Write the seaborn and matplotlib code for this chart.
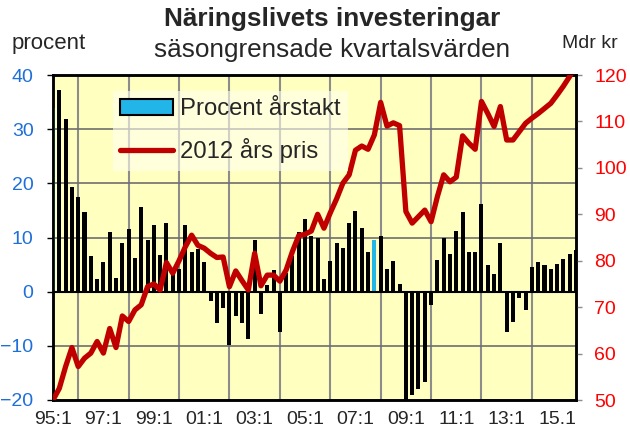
import numpy as np
import pandas as pd
import matplotlib
matplotlib.use("Agg")
import matplotlib.pyplot as plt
import seaborn as sns
from matplotlib.patches import Patch
from matplotlib.lines import Line2D

# --- data (quarters 95:1 .. 15:4) ---
quarters = [f"{y % 100:02d}:{q}" for y in range(1995, 2016) for q in range(1, 5)]

pct_change = [34.0, 37.2, 31.8, 19.4, 17.5, 14.8, 6.6, 2.3, 5.5, 11.1,
              2.5, 9.0, 11.6, 6.2, 15.6, 9.5, 12.4, 6.7, 12.7, 3.5,
              4.2, 12.4, 7.3, 7.8, 5.5, -1.8, -5.7, -3.0, -9.9, -4.4,
              -5.7, -8.7, 9.5, -4.2, 1.3, 4.0, -7.4, 3.5, 6.6, 11.1,
              13.4, 10.2, 10.0, 2.4, 5.7, 9.0, 8.1, 12.7, 14.9, 11.8,
              7.3, 9.5, 10.3, 4.2, 5.7, 1.5, -20.5, -19.1, -18.0, -16.6,
              -2.5, 5.8, 9.9, 6.9, 11.2, 14.8, 7.4, 7.4, 16.2, 5.0,
              3.2, 8.9, -7.4, -5.6, -1.2, -3.4, 4.6, 5.5, 4.9, 4.1,
              5.2, 6.1, 6.9, 7.7]

level_2012 = [50.0, 52.5, 57.2, 61.3, 57.2, 59.0, 60.1, 62.6, 60.1, 65.4,
              61.3, 68.1, 66.9, 69.4, 70.5, 74.4, 75.0, 73.7, 79.6, 77.3,
              80.0, 83.0, 85.5, 83.3, 82.7, 81.6, 80.7, 80.8, 74.4, 77.8,
              75.7, 73.7, 81.6, 74.6, 76.9, 76.9, 75.6, 78.0, 82.0, 85.4,
              85.7, 86.4, 90.0, 87.0, 90.3, 93.3, 96.7, 98.5, 103.8, 104.7,
              104.0, 107.1, 114.1, 109.0, 109.7, 109.1, 90.6, 88.1, 89.5, 90.9,
              88.4, 93.8, 98.5, 97.0, 98.0, 106.9, 105.3, 104.0, 114.3, 111.7,
              108.9, 113.2, 106.0, 106.0, 107.8, 109.6, 110.7, 111.7, 112.8, 113.9,
              115.7, 117.6, 119.7, 122.0]

highlighted = ["95:1", "07:4"]
tick_labels = ["95:1", "97:1", "99:1", "01:1", "03:1", "05:1",
               "07:1", "09:1", "11:1", "13:1", "15.1"]

CYAN = "#22B5E8"
RED = "#C00000"
BLUE = "#1E6FD9"

df = pd.DataFrame({"quarter": quarters, "pct": pct_change, "level": level_2012})
df["pos"] = np.arange(len(df))
bar_colors = {q: (CYAN if q in highlighted else "black") for q in quarters}

sns.set_style("white")
plt.rcParams["font.family"] = ["Liberation Sans", "DejaVu Sans"]

fig = plt.figure(figsize=(6.3, 4.37), dpi=100)
ax = fig.add_axes([53 / 630, 1 - 400 / 437, 523 / 630, 325 / 437])
ax.set_facecolor("#FFFFC0")

sns.barplot(data=df, x="quarter", y="pct", hue="quarter", palette=bar_colors,
            width=0.64, dodge=False, legend=False, saturation=1,
            edgecolor="none", linewidth=0, ax=ax, zorder=3)
ax.axhline(0, color="black", lw=1.5, zorder=4)

ax.set_xlim(0, len(df) - 1)
ax.set_ylim(-20, 40)
ax.set_yticks(range(-20, 41, 10))
ax.set_xticks(range(0, len(df), 8))
ax.set_xticklabels(tick_labels)
ax.set_xticks(range(0, len(df), 4), minor=True)
ax.set_xlabel("")
ax.set_ylabel("")
ax.set_axisbelow(True)
ax.grid(True, which="minor", axis="x", color="#8C8C8C", lw=1.5)
ax.grid(True, which="major", axis="y", color="#6E6E6E", lw=1.2)
ax.tick_params(axis="x", which="both", length=0, labelsize=14, pad=8)
ax.tick_params(axis="y", length=4, width=1, color="black", labelsize=14,
               labelcolor=BLUE, pad=10, left=True)
for s in ax.spines.values():
    s.set_color("black")
    s.set_linewidth(1.8)

ax2 = ax.twinx()
sns.lineplot(data=df, x="pos", y="level", color=RED, lw=3.8, ax=ax2, zorder=5)
ax2.set_ylim(50, 120)
ax2.set_yticks(range(50, 121, 10))
ax2.set_xlim(0, len(df) - 1)
ax2.set_ylabel("")
ax2.set_xlabel("")
ax2.tick_params(axis="y", length=4, width=1, color="#8C8C8C", labelsize=14,
                labelcolor="#FF0000", pad=9, right=True)
for s in ax2.spines.values():
    s.set_color("black")
    s.set_linewidth(1.8)

handles = [Patch(facecolor=CYAN, edgecolor="black", lw=1.5, label="Procent årstakt"),
           Line2D([], [], color=RED, lw=3.8, label="2012 års pris")]
leg = ax2.legend(handles=handles, loc="upper left", bbox_to_anchor=(0.115, 0.95),
                 fontsize=17.2, frameon=True, facecolor="#FFFFF0", edgecolor="none",
                 framealpha=0.6, fancybox=False, handlelength=2.2, handleheight=0.65,
                 handletextpad=0.3, labelspacing=0.75, borderpad=0.3, borderaxespad=0)
leg.set_zorder(10)

fig.text(332 / 630, 1 - 19 / 437, "Näringslivets investeringar", ha="center", va="center",
         fontsize=18.8, fontweight="bold")
fig.text(332 / 630, 1 - 50 / 437, "säsongrensade kvartalsvärden", ha="center", va="center",
         fontsize=18.8)
fig.text(12 / 630, 1 - 44 / 437, "procent", ha="left", va="center", fontsize=16)
fig.text(590 / 630, 1 - 44 / 437, "Mdr kr", ha="center", va="center", fontsize=14)

fig.savefig("out.png", dpi=100, facecolor="white")
